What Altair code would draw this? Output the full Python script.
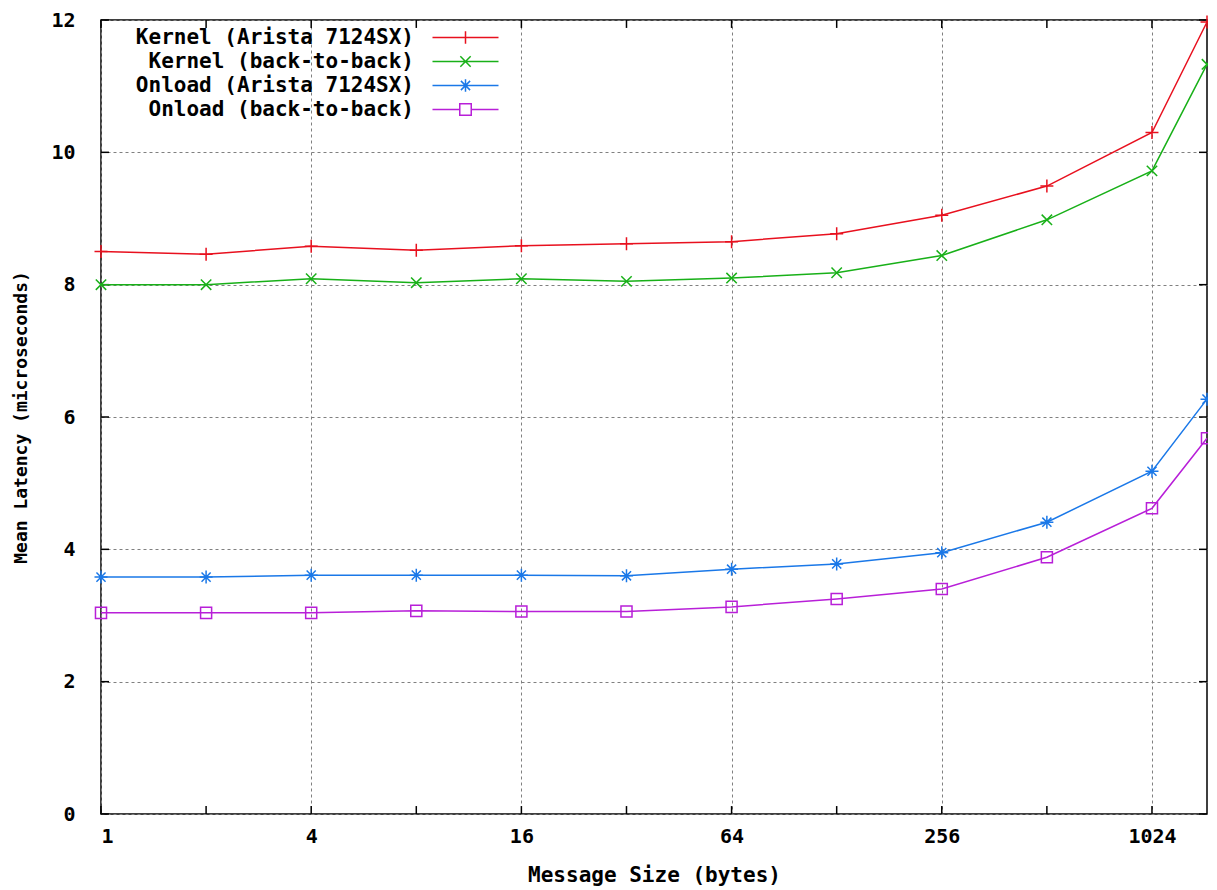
import altair as alt
import pandas as pd

sizes = [1, 2, 4, 8, 16, 32, 64, 128, 256, 512, 1024, 1472]
kernel_arista = [8.50, 8.46, 8.58, 8.52, 8.59, 8.62, 8.65, 8.77, 9.05, 9.49, 10.30, 11.97]
kernel_b2b = [8.00, 8.00, 8.09, 8.03, 8.09, 8.05, 8.10, 8.18, 8.44, 8.98, 9.72, 11.33]
onload_arista = [3.58, 3.58, 3.61, 3.61, 3.61, 3.60, 3.70, 3.78, 3.95, 4.41, 5.18, 6.27]
onload_b2b = [3.04, 3.04, 3.04, 3.07, 3.06, 3.06, 3.13, 3.25, 3.40, 3.88, 4.62, 5.68]

series_names = ["Kernel (Arista 7124SX)", "Kernel (back-to-back)",
                "Onload (Arista 7124SX)", "Onload (back-to-back)"]
series_values = [kernel_arista, kernel_b2b, onload_arista, onload_b2b]
colors = ["#e8101e", "#18b018", "#1a78e8", "#b81fd8"]

x_label_values = [1, 4, 16, 64, 256, 1024]
x_tick_values = [1, 2, 4, 8, 16, 32, 64, 128, 256, 512, 1024]
y_tick_values = [0, 2, 4, 6, 8, 10, 12]

X_MIN, X_MAX = 1, 1472
Y_MIN, Y_MAX = 0, 12

marker_paths = [
    "M-1,0L1,0M0,-1L0,1",
    "M-0.8,-0.8L0.8,0.8M-0.8,0.8L0.8,-0.8",
    "M-1,0L1,0M0,-1L0,1M-0.7,-0.7L0.7,0.7M-0.7,0.7L0.7,-0.7",
    "M-0.85,-0.85L0.85,-0.85L0.85,0.85L-0.85,0.85Z",
]
legend_paths = [
    "M-2.87,0L2.87,0M0,-0.55L0,0.55",
    "M-2.87,0L2.87,0M-0.45,-0.45L0.45,0.45M-0.45,0.45L0.45,-0.45",
    "M-2.87,0L2.87,0M0,-0.55L0,0.55M-0.4,-0.4L0.4,0.4M-0.4,0.4L0.4,-0.4",
    "M-2.87,0L-0.5,0M0.5,0L2.87,0M-0.5,-0.5L0.5,-0.5L0.5,0.5L-0.5,0.5Z",
]

rows = []
for name, vals in zip(series_names, series_values):
    for s, v in zip(sizes, vals):
        rows.append({"size": s, "latency": v, "series": name})
df = pd.DataFrame(rows)

# inward tick marks (gnuplot style), expressed in data units along each axis
TICK_Y = 0.12      # tick length in latency units for x-axis ticks
TICK_XF = 1.054    # tick length as a log2 factor for y-axis ticks
tick_rows = []
for v in x_tick_values:
    tick_rows.append({"x": v, "x2": v, "y": Y_MIN, "y2": Y_MIN + TICK_Y})
    tick_rows.append({"x": v, "x2": v, "y": Y_MAX, "y2": Y_MAX - TICK_Y})
for v in y_tick_values:
    tick_rows.append({"x": X_MIN, "x2": X_MIN * TICK_XF, "y": v, "y2": v})
    tick_rows.append({"x": X_MAX, "x2": X_MAX / TICK_XF, "y": v, "y2": v})
ticks_df = pd.DataFrame(tick_rows)

FONT = "DejaVu Sans Mono"

x_scale = alt.Scale(type="log", base=2, domain=[X_MIN, X_MAX], nice=False)
y_scale = alt.Scale(domain=[Y_MIN, Y_MAX], nice=False, zero=True)
color_scale = alt.Scale(domain=series_names, range=colors)
shape_scale = alt.Scale(domain=series_names, range=legend_paths)

legend = alt.Legend(
    title=None, orient="none", legendX=352, legendY=5, padding=0,
    labelAlign="right", labelOffset=alt.ExprRef(expr="-64"), labelLimit=500,
    labelFont=FONT, labelFontSize=21, labelFontWeight="bold", labelColor="black",
    symbolSize=529, symbolStrokeWidth=1.5, symbolOpacity=1, rowPadding=1,
)

lines = alt.Chart(df).mark_line(strokeWidth=1.5).encode(
    x=alt.X("size:Q", scale=x_scale, axis=alt.Axis(
        values=x_label_values, title="Message Size (bytes)", grid=True,
        gridDash=[3, 3], gridColor="#808080", gridWidth=1, ticks=False, domain=False,
        labelPadding=12, titlePadding=18, format="d",
        labelFont=FONT, labelFontSize=20, labelFontWeight="bold", labelColor="black",
        titleFont=FONT, titleFontSize=21, titleFontWeight="bold", titleColor="black")),
    y=alt.Y("latency:Q", scale=y_scale, axis=alt.Axis(
        values=y_tick_values, title="Mean Latency (microseconds)", grid=True,
        gridDash=[3, 3], gridColor="#808080", gridWidth=1, ticks=False, domain=False,
        labelPadding=26, titlePadding=20, format="d",
        labelFont=FONT, labelFontSize=20, labelFontWeight="bold", labelColor="black",
        titleFont=FONT, titleFontSize=18, titleFontWeight="bold", titleColor="black")),
    color=alt.Color("series:N", scale=color_scale, legend=legend),
)

tick_layer = alt.Chart(ticks_df).mark_rule(color="black", strokeWidth=1.5).encode(
    x=alt.X("x:Q", scale=x_scale, axis=None),
    x2="x2:Q",
    y=alt.Y("y:Q", scale=y_scale, axis=None),
    y2="y2:Q",
)

point_layers = []
for name, path, col in zip(series_names, marker_paths, colors):
    layer = alt.Chart(df).transform_filter(alt.datum.series == name).mark_point(
        shape=path, filled=False, size=169, strokeWidth=1.5, color=col, opacity=1
    ).encode(
        x=alt.X("size:Q", scale=x_scale, axis=None),
        y=alt.Y("latency:Q", scale=y_scale, axis=None),
    )
    point_layers.append(layer)

legend_layer = alt.Chart(df).transform_filter("datum.size < 0").mark_point(
    filled=False, strokeWidth=1.5, opacity=1
).encode(
    x=alt.X("size:Q", scale=x_scale, axis=None),
    y=alt.Y("latency:Q", scale=y_scale, axis=None),
    color=alt.Color("series:N", scale=color_scale, legend=legend),
    shape=alt.Shape("series:N", scale=shape_scale, legend=legend),
)

chart = alt.layer(tick_layer, lines, *point_layers, legend_layer).resolve_axis(
    x="independent", y="independent"
).properties(
    width=1106, height=794,
    autosize=alt.AutoSizeParams(type="none"),
    padding={"left": 93, "top": 12, "right": 1, "bottom": 72},
    background="white",
).configure_view(stroke="black", strokeWidth=1.5)

chart.save("out.html", embed_options={"renderer": "svg", "actions": False})
